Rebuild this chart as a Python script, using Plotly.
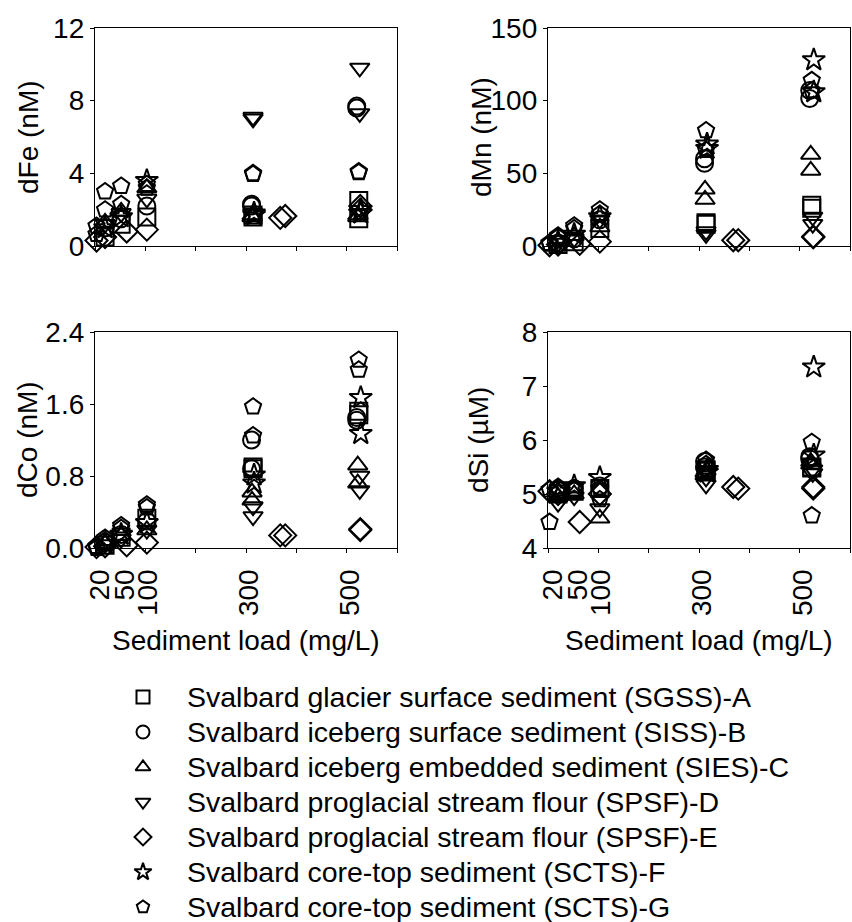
import plotly.graph_objects as go

FONT = "Liberation Sans, Arial, sans-serif"

# ---------------- data (sediment load as plotted, mg/L) ----------------
SERIES = [
    "Svalbard glacier surface sediment (SGSS)-A",
    "Svalbard iceberg surface sediment (SISS)-B",
    "Svalbard iceberg embedded sediment (SIES)-C",
    "Svalbard proglacial stream flour (SPSF)-D",
    "Svalbard proglacial stream flour (SPSF)-E",
    "Svalbard core-top sediment (SCTS)-F",
    "Svalbard core-top sediment (SCTS)-G",
]
SYMBOLS = ["square-open", "circle-open", "triangle-up-open", "triangle-down-open",
           "diamond-open", "star-open", "pentagon-open"]

x_A = [20, 52, 103, 314, 314, 524, 524]
x_B = [20, 52, 103, 311, 311, 520, 520]
x_C = [20, 52, 103, 312, 312, 522, 522]
x_D = [20, 52, 103, 314, 314, 526, 526]
x_E = [3, 20, 63, 103, 368, 378, 527, 527]
x_F = [20, 52, 103, 316, 316, 528, 528]
x_G = [3, 3, 20, 20, 52, 52, 103, 103, 314, 314, 524, 524]

dFe_A = [0.5, 1.2, 1.6, 1.6, 1.7, 2.5, 1.5]
dFe_B = [1.0, 1.5, 2.2, 2.3, 2.2, 7.7, 7.6]
dFe_C = [1.3, 1.9, 3.2, 1.6, 1.7, 1.6, 1.7]
dFe_D = [1.2, 1.8, 2.6, 7.0, 7.1, 9.8, 7.3]
dFe_E = [0.3, 0.5, 0.8, 0.9, 1.55, 1.65, 2.0, 2.2]
dFe_F = [1.0, 1.6, 3.6, 1.8, 1.7, 2.0, 1.8]
dFe_G = [0.65, 1.1, 2.0, 3.0, 2.3, 3.3, 3.2, 3.4, 4.0, 3.95, 4.1, 4.05]

dMn_A = [1, 3, 12, 16, 15, 28, 26]
dMn_B = [2, 5, 18, 57, 60, 101.5, 107]
dMn_C = [3, 7, 13, 39, 32, 63, 52]
dMn_D = [2, 5, 18, 8, 10, 20, 15]
dMn_E = [0.5, 1, 1.5, 3, 4, 4, 6, 6.5]
dMn_F = [3, 8, 20, 67, 70, 128, 106]
dMn_G = [1.5, 2, 6, 7, 12, 14, 22, 25, 79.5, 66, 114, 107]

dCo_A = [0.03, 0.12, 0.33, 0.90, 0.88, 1.52, 1.48]
dCo_B = [0.06, 0.15, 0.30, 1.20, 0.88, 1.45, 1.42]
dCo_C = [0.05, 0.14, 0.20, 0.62, 0.53, 0.92, 0.72]
dCo_D = [0.04, 0.10, 0.20, 0.46, 0.35, 0.80, 0.64]
dCo_E = [0.01, 0.02, 0.03, 0.06, 0.14, 0.14, 0.20, 0.21]
dCo_F = [0.05, 0.15, 0.28, 0.81, 0.72, 1.67, 1.27]
dCo_G = [0.0, 0.02, 0.08, 0.11, 0.22, 0.25, 0.45, 0.48, 1.57, 1.25, 2.09, 1.98]

dSi_A = [5.0, 5.05, 5.1, 5.45, 5.42, 5.5, 5.48]
dSi_B = [5.08, 5.1, 5.15, 5.6, 5.5, 5.69, 5.65]
dSi_C = [4.95, 5.0, 4.55, 5.35, 5.4, 5.6, 5.55]
dSi_D = [4.83, 4.95, 4.73, 5.17, 5.3, 5.38, 5.45]
dSi_E = [5.05, 5.0, 4.48, 5.0, 5.13, 5.1, 5.13, 5.1]
dSi_F = [5.05, 5.15, 5.3, 5.45, 5.4, 7.35, 5.72]
dSi_G = [4.48, 5.08, 5.1, 5.13, 5.07, 5.1, 4.9, 5.1, 5.63, 5.55, 5.96, 4.6]

X_ALL = [x_A, x_B, x_C, x_D, x_E, x_F, x_G]
PANELS = [
    ("dFe (nM)", [dFe_A, dFe_B, dFe_C, dFe_D, dFe_E, dFe_F, dFe_G]),
    ("dMn (nM)", [dMn_A, dMn_B, dMn_C, dMn_D, dMn_E, dMn_F, dMn_G]),
    ("dCo (nM)", [dCo_A, dCo_B, dCo_C, dCo_D, dCo_E, dCo_F, dCo_G]),
    ("dSi (µM)", [dSi_A, dSi_B, dSi_C, dSi_D, dSi_E, dSi_F, dSi_G]),
]
Y_RANGES = [[0, 12], [0, 150], [0, 2.4], [4, 8]]
Y_DTICK = [4, 50, 0.8, 1]
Y_FORMAT = ["", "", ".1f", ""]

X_TICK_TEXT = ["20", "50", "100", "300", "500"]
X_TICK_POS = [10, 60, 106, 305, 507]
X_TITLE = "Sediment load (mg/L)"

# ---------------- layout geometry ----------------
W, H = 852, 922
def px_x(a, b):
    return [a / W, b / W]
def px_y(top, bottom):
    return [1 - bottom / H, 1 - top / H]

X_DOM = [px_x(95, 397), px_x(548, 850)]
Y_DOM = [px_y(28, 246), px_y(332, 548)]
Y_TITLE_SHIFT = [-66, -66, -68, -70]
X_TITLE_SHIFT = -92

fig = go.Figure()

for p, (ytitle, ys) in enumerate(PANELS):
    suffix = "" if p == 0 else str(p + 1)
    for s in range(7):
        fig.add_trace(go.Scatter(
            x=X_ALL[s], y=ys[s], mode="markers",
            name=SERIES[s], showlegend=False,
            marker=dict(symbol=SYMBOLS[s], size=17, color="black",
                        line=dict(width=2, color="black")),
            cliponaxis=False,
            xaxis="x" + suffix, yaxis="y" + suffix,
        ))

# ---------------- legend (symbol column + text column) ----------------
legend_rows = list(range(len(SERIES)))
fig.add_trace(go.Scatter(
    x=[0] * len(SERIES), y=legend_rows, mode="markers", showlegend=False,
    marker=dict(symbol=SYMBOLS, size=13, color="black", line=dict(width=2, color="black")),
    cliponaxis=False, xaxis="x5", yaxis="y5", hoverinfo="skip",
))
annotations = [
    dict(text=SERIES[i], x=1, y=legend_rows[i], xref="x5", yref="y5",
         xanchor="left", yanchor="middle", showarrow=False,
         font=dict(family=FONT, size=28.5, color="black"))
    for i in range(len(SERIES))
]

axis_common = dict(showline=True, linecolor="black", linewidth=1.3, mirror=True,
                   showgrid=False, zeroline=False,
                   tickfont=dict(family=FONT, size=28, color="black"),
                   automargin=False)

layout = {}
for p in range(4):
    suffix = "" if p == 0 else str(p + 1)
    col, row = p % 2, p // 2
    xa = dict(axis_common, domain=X_DOM[col], range=[0, 600],
              anchor="y" + suffix)
    if row == 0:
        xa.update(ticks="outside", ticklen=4, tickwidth=1.3, tickcolor="black",
                  tickmode="linear", tick0=0, dtick=100, showticklabels=False)
    else:
        xa.update(tickmode="array", tickvals=X_TICK_POS, ticktext=X_TICK_TEXT,
                  tickangle=-90, ticks="", ticklabelstandoff=9,
                  minor=dict(ticks="outside", ticklen=4, tickwidth=1.3,
                             tickcolor="black", tickmode="linear", tick0=0, dtick=100))
        annotations.append(dict(
            text=X_TITLE, xref="x" + suffix + " domain", yref="y" + suffix + " domain",
            x=0.5, y=0, yshift=X_TITLE_SHIFT, xanchor="center", yanchor="middle",
            showarrow=False, font=dict(family=FONT, size=28, color="black")))
    ya = dict(axis_common, domain=Y_DOM[row], range=Y_RANGES[p],
              anchor="x" + suffix, ticks="outside", ticklen=4, tickwidth=1.3,
              tickcolor="black", tickmode="linear", tick0=Y_RANGES[p][0],
              dtick=Y_DTICK[p], tickformat=Y_FORMAT[p])
    annotations.append(dict(
        text=PANELS[p][0], xref="x" + suffix + " domain", yref="y" + suffix + " domain",
        x=0, y=0.5, xshift=Y_TITLE_SHIFT[p], textangle=-90,
        xanchor="center", yanchor="middle", showarrow=False,
        font=dict(family=FONT, size=28, color="black")))
    layout["xaxis" + suffix] = xa
    layout["yaxis" + suffix] = ya

# legend helper axes: symbol column at 0, text column at 1; one unit per row (35 px)
layout["xaxis5"] = dict(domain=px_x(143, 185), range=[0, 1], visible=False,
                        fixedrange=True, anchor="y5")
layout["yaxis5"] = dict(domain=px_y(679.5, 922), range=[-0.5 + 242.5 / 35, -0.5],
                        visible=False, fixedrange=True, anchor="x5")

fig.update_layout(
    **layout,
    annotations=annotations,
    width=W, height=H,
    margin=dict(l=0, r=0, t=0, b=0),
    paper_bgcolor="white", plot_bgcolor="white",
    font=dict(family=FONT, size=28, color="black"),
    showlegend=False,
)

fig.write_html(
    "out.html",
    config={"displayModeBar": False},
    post_script="document.body.style.margin='0';document.body.style.padding='0';"
                "document.body.style.overflow='hidden';",
)
